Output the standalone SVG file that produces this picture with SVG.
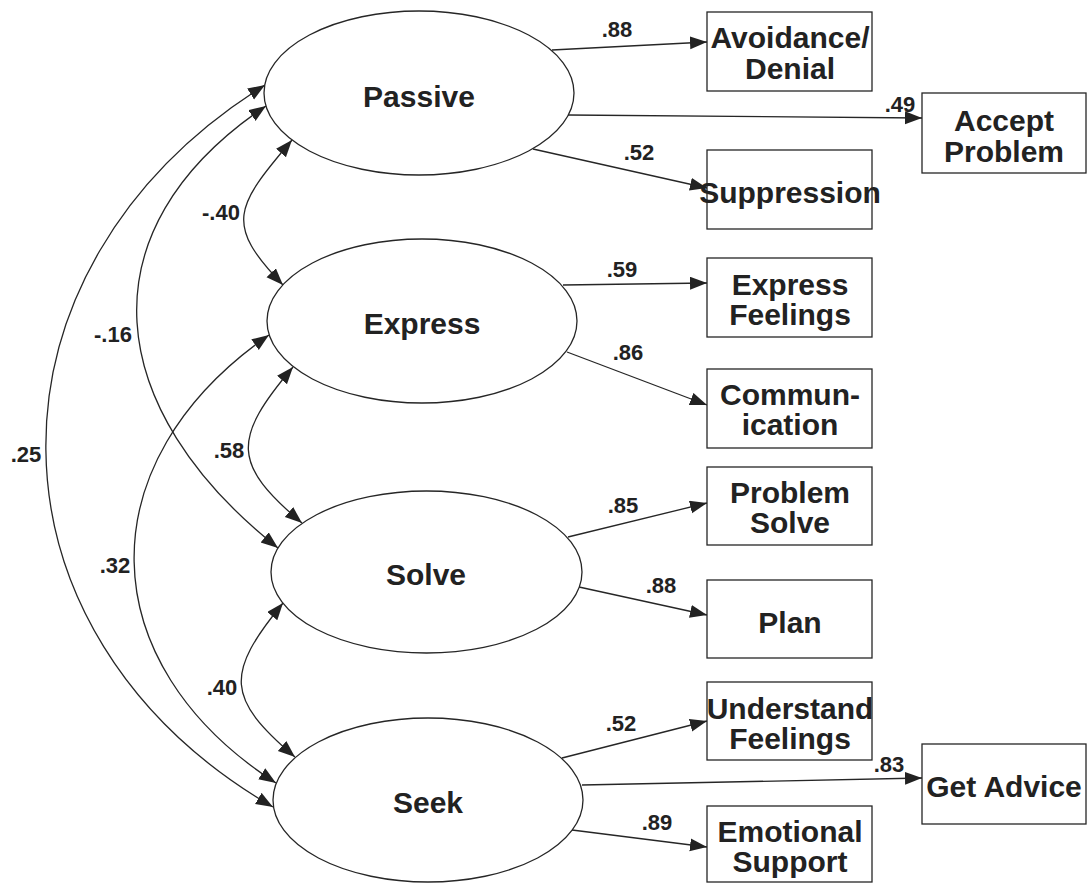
<svg xmlns="http://www.w3.org/2000/svg" width="1089" height="886" viewBox="0 0 1089 886">
  <style>
    .latent { fill: #ffffff; stroke: #262626; stroke-width: 1.3; }
    .obs { fill: #ffffff; stroke: #262626; stroke-width: 1.3; }
    .name { font-family: "Liberation Sans", Arial, sans-serif; font-weight: bold; font-size: 30px; fill: #222222; text-anchor: middle; }
    .coef { font-family: "Liberation Sans", Arial, sans-serif; font-weight: bold; font-size: 22px; fill: #222222; text-anchor: middle; }
    .path { fill: none; stroke: #262626; stroke-width: 1.3; }
    .load { marker-end: url(#head); }
    .cov { marker-start: url(#head); marker-end: url(#head); }
  </style>
  <defs>
    <marker id="head" markerUnits="userSpaceOnUse" markerWidth="18" markerHeight="14" refX="17" refY="6.5" orient="auto-start-reverse">
      <path d="M0,0 L17,6.5 L0,13 Z" fill="#222222"/>
    </marker>
  </defs>

  <rect width="1089" height="886" fill="#ffffff"/>

  <!-- connectors: factor loadings and factor covariances -->
  <g id="connectors">
    <!-- loadings -->
    <line class="path load" x1="552" y1="50" x2="707" y2="42"/>
    <line class="path load" x1="568" y1="115" x2="922" y2="118"/>
    <line class="path load" x1="533" y1="149" x2="707" y2="188"/>
    <line class="path load" x1="563" y1="285" x2="707" y2="283"/>
    <line class="path load" x1="567" y1="352" x2="707" y2="405"/>
    <line class="path load" x1="568" y1="537" x2="707" y2="503"/>
    <line class="path load" x1="579" y1="587" x2="707" y2="615"/>
    <line class="path load" x1="562" y1="758" x2="707" y2="721"/>
    <line class="path load" x1="582" y1="785" x2="922" y2="778"/>
    <line class="path load" x1="572" y1="830" x2="707" y2="847"/>
    <!-- covariances -->
    <path class="path cov" d="M265,85 C-30,269 -27,633 273,807"/>
    <path class="path cov" d="M266,106 C80,231 104,410 278,548"/>
    <path class="path cov" d="M269,335 C86,462 90,663 276,783"/>
    <path class="path cov" d="M292,140 C235,207 224,224 283,285"/>
    <path class="path cov" d="M293,367 C232,439 232,464 302,523"/>
    <path class="path cov" d="M283,603 C225,674 226,698 295,757"/>
  </g>

  <!-- coefficient labels -->
  <g id="coefficients">
    <text class="coef" x="617" y="37">.88</text>
    <text class="coef" x="900" y="112">.49</text>
    <text class="coef" x="639" y="160">.52</text>
    <text class="coef" x="622" y="277">.59</text>
    <text class="coef" x="628" y="360">.86</text>
    <text class="coef" x="623" y="513">.85</text>
    <text class="coef" x="661" y="593">.88</text>
    <text class="coef" x="621" y="731">.52</text>
    <text class="coef" x="889" y="772">.83</text>
    <text class="coef" x="657" y="830">.89</text>
    <text class="coef" x="221" y="220">-.40</text>
    <text class="coef" x="113" y="342">-.16</text>
    <text class="coef" x="26" y="462">.25</text>
    <text class="coef" x="229" y="458">.58</text>
    <text class="coef" x="115" y="573">.32</text>
    <text class="coef" x="222" y="695">.40</text>
  </g>

  <!-- latent factors -->
  <g id="passive">
    <ellipse class="latent" cx="419" cy="93" rx="155" ry="82"/>
    <text class="name" x="419" y="107">Passive</text>
  </g>
  <g id="express">
    <ellipse class="latent" cx="422" cy="321" rx="155" ry="82"/>
    <text class="name" x="422" y="334">Express</text>
  </g>
  <g id="solve">
    <ellipse class="latent" cx="426.5" cy="572" rx="155.5" ry="81"/>
    <text class="name" x="426" y="585">Solve</text>
  </g>
  <g id="seek">
    <ellipse class="latent" cx="428" cy="800" rx="155" ry="82"/>
    <text class="name" x="428" y="813">Seek</text>
  </g>

  <!-- observed indicators -->
  <g id="avoidance-denial">
    <rect class="obs" x="707" y="12" width="165" height="79"/>
    <text class="name" x="790" y="48">Avoidance/</text>
    <text class="name" x="790" y="79">Denial</text>
  </g>
  <g id="accept-problem">
    <rect class="obs" x="922" y="93" width="164" height="80"/>
    <text class="name" x="1004" y="131">Accept</text>
    <text class="name" x="1004" y="162">Problem</text>
  </g>
  <g id="suppression">
    <rect class="obs" x="707" y="150" width="165" height="79"/>
    <text class="name" x="790" y="203">Suppression</text>
  </g>
  <g id="express-feelings">
    <rect class="obs" x="707" y="258" width="165" height="79"/>
    <text class="name" x="790" y="295">Express</text>
    <text class="name" x="790" y="325">Feelings</text>
  </g>
  <g id="communication">
    <rect class="obs" x="707" y="369" width="165" height="79"/>
    <text class="name" x="790" y="405">Commun-</text>
    <text class="name" x="790" y="435">ication</text>
  </g>
  <g id="problem-solve">
    <rect class="obs" x="707" y="467" width="165" height="78"/>
    <text class="name" x="790" y="503">Problem</text>
    <text class="name" x="790" y="533">Solve</text>
  </g>
  <g id="plan">
    <rect class="obs" x="707" y="580" width="165" height="78"/>
    <text class="name" x="790" y="633">Plan</text>
  </g>
  <g id="understand-feelings">
    <rect class="obs" x="707" y="682" width="165" height="78"/>
    <text class="name" x="790" y="719">Understand</text>
    <text class="name" x="790" y="749">Feelings</text>
  </g>
  <g id="get-advice">
    <rect class="obs" x="922" y="744" width="164" height="80"/>
    <text class="name" x="1004" y="797">Get Advice</text>
  </g>
  <g id="emotional-support">
    <rect class="obs" x="707" y="806" width="165" height="76"/>
    <text class="name" x="790" y="842">Emotional</text>
    <text class="name" x="790" y="872">Support</text>
  </g>
</svg>
